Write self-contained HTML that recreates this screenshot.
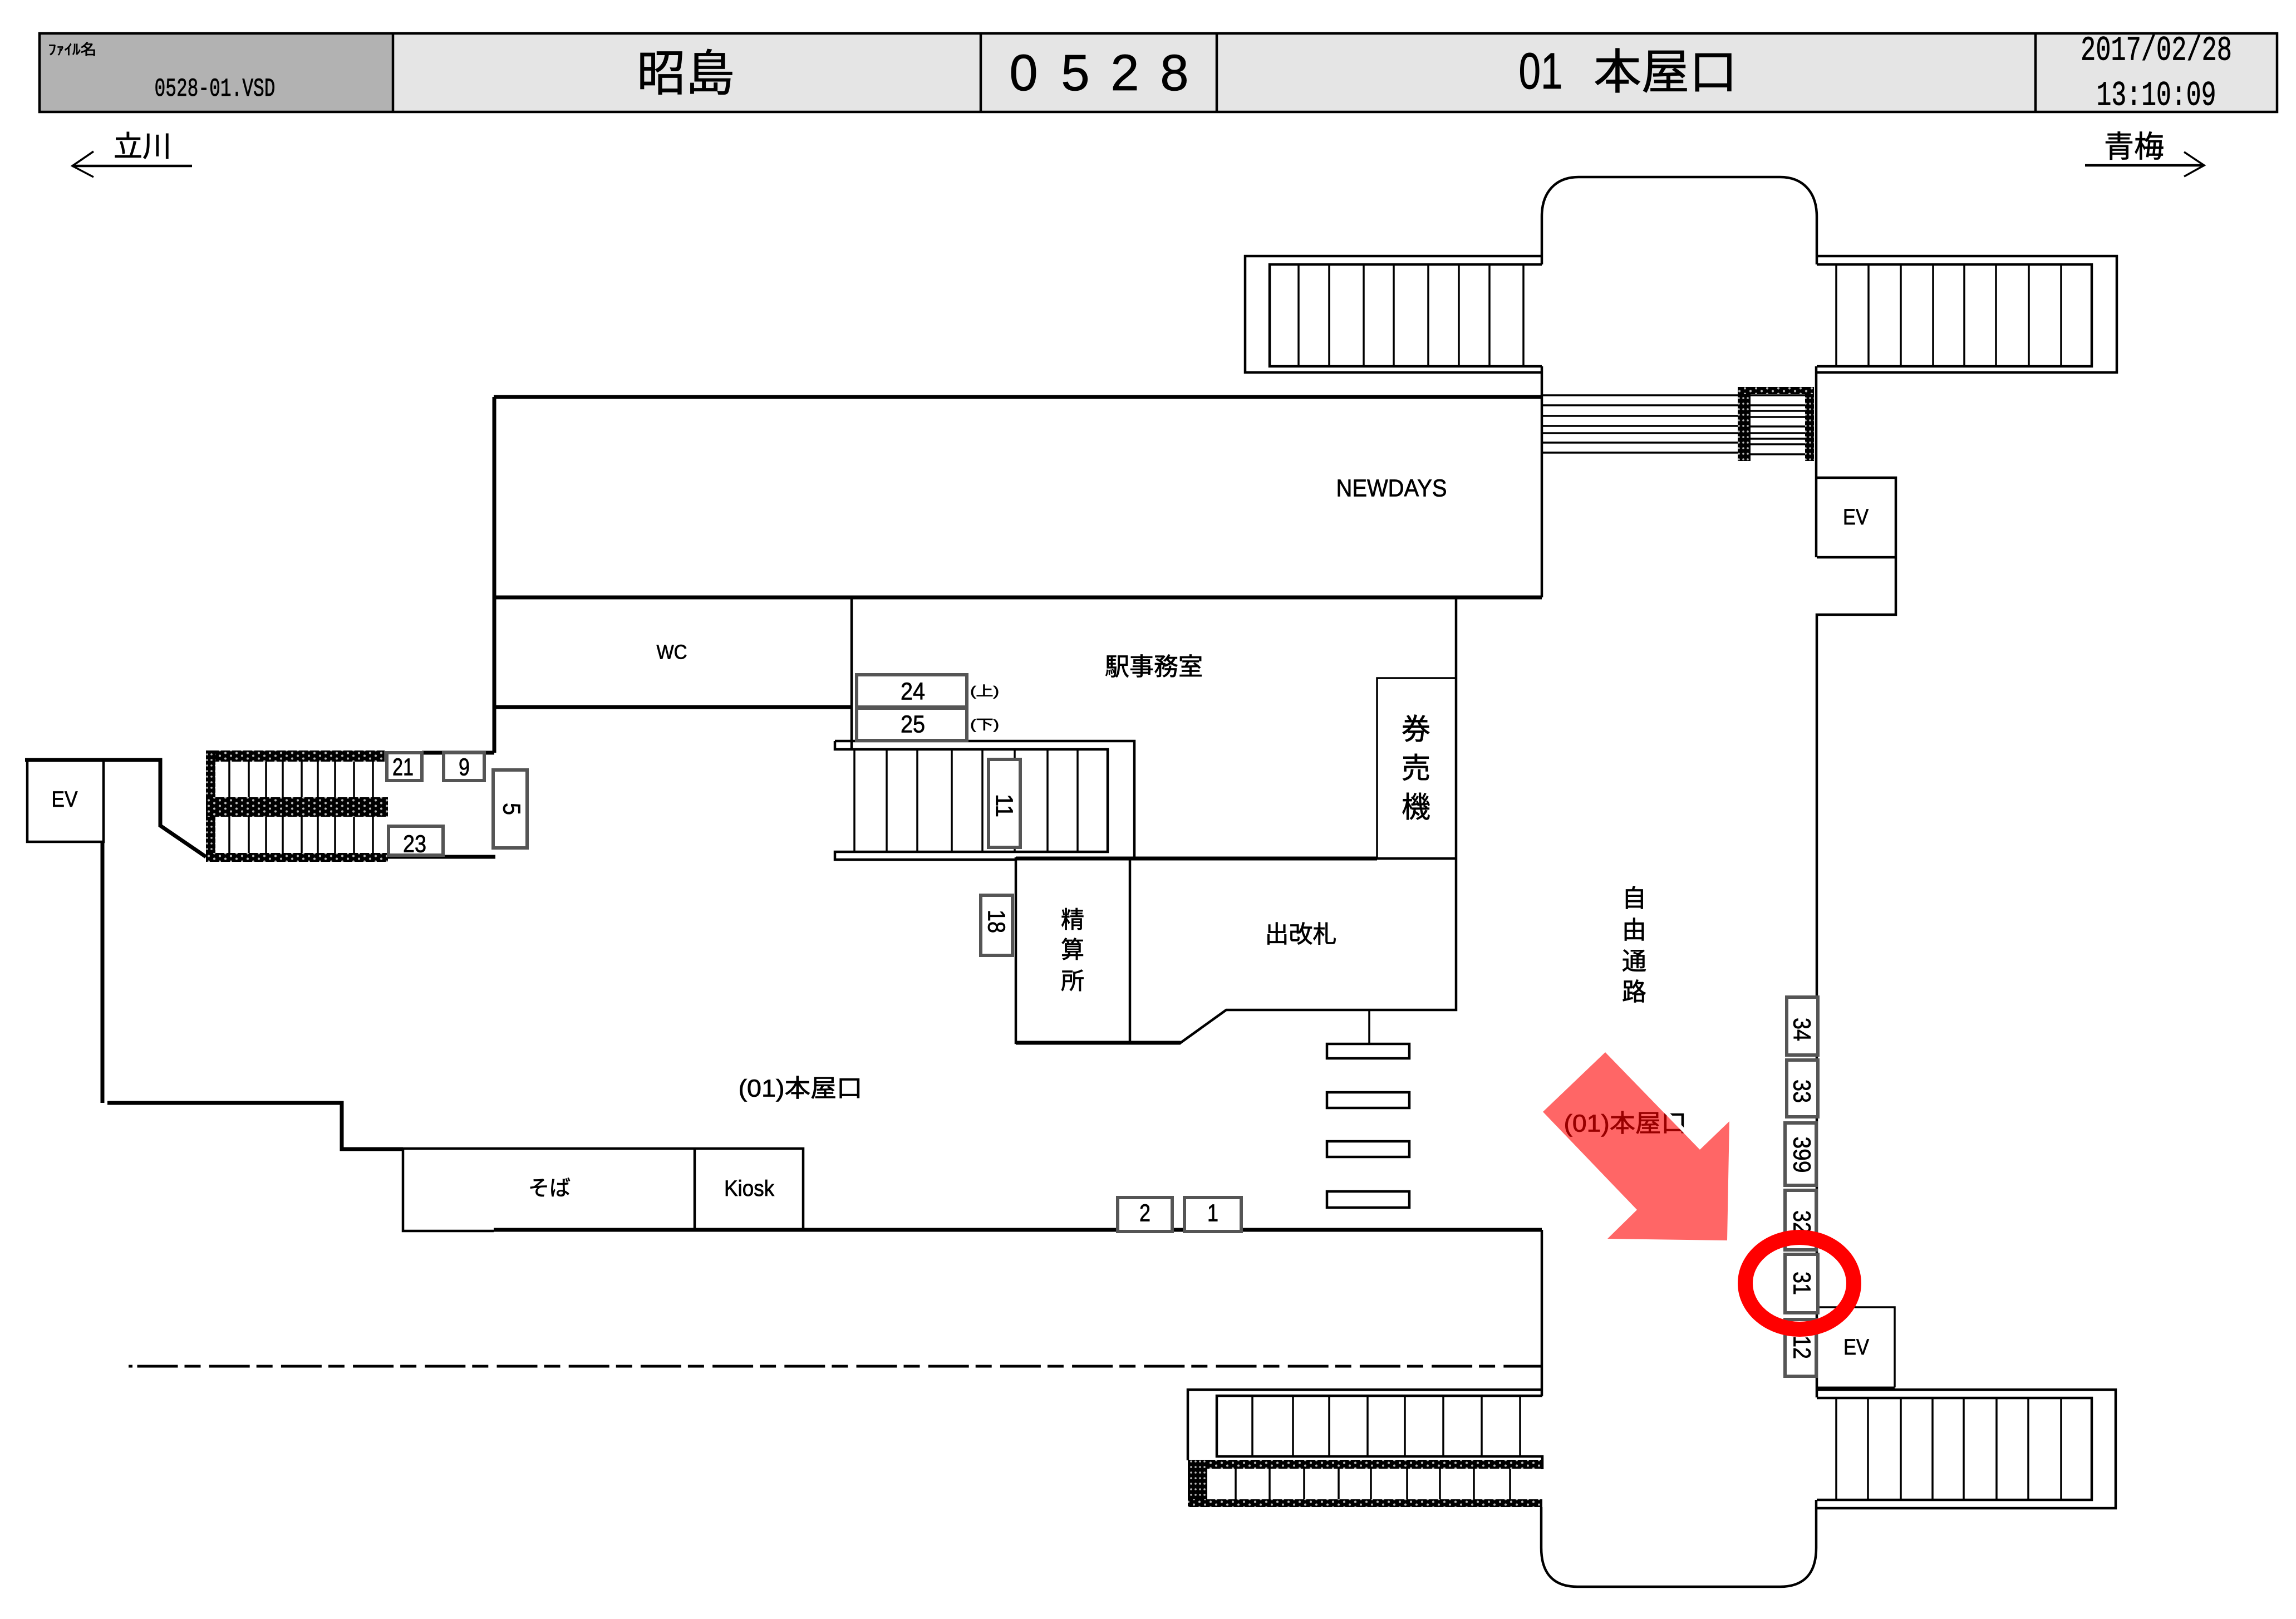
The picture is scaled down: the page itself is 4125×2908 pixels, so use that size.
<!DOCTYPE html>
<html lang="ja">
<head>
<meta charset="utf-8">
<title>昭島 0528 01 本屋口</title>
<style>
html,body{margin:0;padding:0;background:#fff;}
svg{display:block;}
text{font-family:"Liberation Sans","Noto Sans CJK JP",sans-serif;fill:#000;stroke:#000;stroke-width:.8;text-anchor:middle;dominant-baseline:central;}
text.mono{font-family:"Liberation Mono","Noto Sans CJK JP",monospace;}
.w{fill:none;stroke:#000;stroke-width:7;}
.m{fill:none;stroke:#000;stroke-width:4.5;}
.t{fill:none;stroke:#000;stroke-width:3.5;}
.b{fill:#fff;stroke:#555;stroke-width:6;}
</style>
</head>
<body>
<svg xmlns="http://www.w3.org/2000/svg" width="4125" height="2908" viewBox="0 0 4125 2908">
<defs>
<pattern id="h" width="20" height="10" patternUnits="userSpaceOnUse">
<rect width="20" height="10" fill="#000"/>
<circle cx="5" cy="2.5" r="2" fill="#bbb"/>
<circle cx="15" cy="7.5" r="2" fill="#bbb"/>
</pattern>
<pattern id="v" width="8" height="10" patternUnits="userSpaceOnUse">
<rect width="8" height="10" fill="#000"/>
<circle cx="4" cy="5" r="1.8" fill="#bbb"/>
</pattern>
</defs>
<rect width="4125" height="2908" fill="#fff"/>

<!-- header -->
<rect x="71" y="60" width="635" height="141" fill="#b2b2b2"/>
<rect x="706" y="60" width="3385" height="141" fill="#e5e5e5"/>
<path class="m" d="M71 60H4091V201H71ZM706 60V201M1762 60V201M2186 60V201M3657 60V201"/>
<text x="130" y="89" font-size="26" textLength="87" lengthAdjust="spacingAndGlyphs">ﾌｧｲﾙ名</text>
<text class="mono" x="386" y="160" font-size="46" textLength="217" lengthAdjust="spacingAndGlyphs">0528-01.VSD</text>
<text x="1232" y="132" font-size="88">昭島</text>
<text x="1839" y="131" font-size="92">0</text>
<text x="1932" y="131" font-size="92">5</text>
<text x="2021" y="131" font-size="92">2</text>
<text x="2110" y="131" font-size="92">8</text>
<text x="2768" y="128" font-size="92" textLength="79" lengthAdjust="spacingAndGlyphs">01</text>
<text x="2992" y="130" font-size="86">本屋口</text>
<text class="mono" x="3874" y="91" font-size="62" textLength="272" lengthAdjust="spacingAndGlyphs">2017/02/28</text>
<text class="mono" x="3874" y="172" font-size="62" textLength="215" lengthAdjust="spacingAndGlyphs">13:10:09</text>

<!-- direction arrows -->
<text x="256" y="264" font-size="52">立川</text>
<path class="m" d="M130 298H345"/>
<path class="t" d="M168 272L130 298L168 318"/>
<text x="3834" y="264" font-size="54">青梅</text>
<path class="m" d="M3746 297H3960"/>
<path class="t" d="M3924 273L3960 297L3924 317"/>

<!-- top capsule + wings -->
<path class="m" d="M2770 475V389C2770 345 2795 318 2836 318H3198C3239 318 3264 345 3264 389V475"/>
<path class="m" d="M2770 460H2237V669H2770M2770 475H2281V658H2770"/>
<path class="m" d="M3264 460H3803V669H3264M3264 475H3758V658H3264"/>
<path class="t" d="M2333 475V658M2388 475V658M2450 475V658M2504 475V658M2566 475V658M2621 475V658M2676 475V658M2737 475V658"/>
<path class="t" d="M3299 475V658M3357 475V658M3415 475V658M3473 475V658M3529 475V658M3586 475V658M3645 475V658M3703 475V658"/>

<!-- middle stairs -->
<path class="t" d="M2770 710H3125M2770 728H3125M2770 747H3125M2770 765H3125M2770 778H3125M2770 795H3125M2770 813H3125"/>
<path class="t" d="M3145 710H3245M3145 728H3245M3145 738H3245M3145 749H3245M3145 766H3245M3145 778H3245M3145 788H3245M3145 798H3245M3145 816H3245"/>
<rect x="3122" y="695" width="23" height="133" fill="url(#v)"/>
<rect x="3243" y="695" width="16" height="133" fill="url(#v)"/>
<rect x="3122" y="695" width="137" height="13" fill="url(#h)"/>

<!-- walls -->
<path class="m" d="M2770 658V1073"/>
<path class="m" d="M3263 658V1001"/>
<path class="m" d="M3264 858H3406V1104H3264V2510"/>
<path class="m" d="M3264 1001H3406"/>
<path class="w" d="M887 713H2770M887 1073H2770M888 713V1352M888 1270H1530"/>
<path class="m" d="M1530 1073V1344"/>
<path class="m" d="M2616 1073V1814H2203L2121 1873H1825V1542H2616M2030 1542V1873"/>
<path class="w" d="M1825 1873H2121M1825 1542H2474"/>
<path class="t" d="M2474 1542V1218H2616"/>

<!-- centre stairs -->
<path class="m" d="M1500 1331H2038V1542M1500 1331V1346H1990V1530H1500V1544H1825"/>
<path class="t" d="M1535 1346V1530M1593 1346V1530M1648 1346V1530M1710 1346V1530M1765 1346V1530M1823 1346V1530M1882 1346V1530M1936 1346V1530"/>

<!-- left side -->
<path class="w" d="M45 1365H288V1483L370 1539"/>
<path class="m" d="M49 1365V1512H186V1365"/>
<path class="w" d="M184 1512V1981"/>
<path class="w" d="M193 1981H614V2064H724"/>
<path class="t" d="M412 1368V1434M447 1368V1434M478 1368V1434M508 1368V1434M542 1368V1434M571 1368V1434M602 1368V1434M636 1368V1434M670 1368V1434"/>
<path class="t" d="M412 1467V1533M447 1467V1533M478 1467V1533M508 1467V1533M542 1467V1533M571 1467V1533M602 1467V1533M636 1467V1533M670 1467V1533"/>
<rect x="370" y="1348" width="321" height="20" fill="url(#h)"/>
<rect x="370" y="1348" width="17" height="200" fill="url(#v)"/>
<rect x="370" y="1432" width="327" height="35" fill="url(#h)"/>
<rect x="370" y="1532" width="327" height="16" fill="url(#h)"/>
<path class="w" d="M758 1352H888M697 1539H890"/>

<!-- shops -->
<path class="m" d="M724 2063H1443V2209M724 2063V2211H887M1248 2063V2209"/>
<path class="w" d="M887 2209H2770"/>
<path class="m" d="M2770 2209V2507"/>

<!-- platform dash-dot -->
<path d="M231 2454H238" fill="none" stroke="#000" stroke-width="5"/>
<path d="M231 2454H2769" fill="none" stroke="#000" stroke-width="5" stroke-dasharray="73 12 29 15.2" stroke-dashoffset="113.7"/>

<!-- small posts -->
<path class="t" d="M2460 1814V1875"/>
<rect class="m" x="2384" y="1875" width="148" height="26"/>
<rect class="m" x="2384" y="1962" width="148" height="28"/>
<rect class="m" x="2384" y="2050" width="148" height="28"/>
<rect class="m" x="2384" y="2140" width="148" height="29"/>

<!-- lower left wing -->
<path class="m" d="M2769 2496H2134V2623"/>
<path class="m" d="M2771 2507H2186V2616H2771V2639"/>
<path class="t" d="M2250 2507V2616M2323 2507V2616M2388 2507V2616M2457 2507V2616M2524 2507V2616M2593 2507V2616M2662 2507V2616M2731 2507V2616"/>
<path class="t" d="M2220 2638V2693M2281 2638V2693M2343 2638V2693M2405 2638V2693M2463 2638V2693M2528 2638V2693M2587 2638V2693M2648 2638V2693M2713 2638V2693"/>
<rect x="2134" y="2622" width="637" height="16" fill="url(#h)"/>
<rect x="2134" y="2622" width="35" height="85" fill="url(#v)"/>
<rect x="2134" y="2693" width="637" height="14" fill="url(#h)"/>

<!-- lower right wing -->
<path class="m" d="M3264 2496H3801V2709H3264"/>
<path class="m" d="M3264 2511H3758V2694H3264"/>
<path class="t" d="M3299 2511V2694M3356 2511V2694M3415 2511V2694M3472 2511V2694M3528 2511V2694M3587 2511V2694M3644 2511V2694M3703 2511V2694"/>
<path class="w" d="M3266 2494H3404"/>

<!-- bottom capsule -->
<path class="m" d="M2769 2707V2780C2769 2825 2790 2850 2834 2850H3198C3242 2850 3263 2825 3263 2780V2694"/>

<!-- EV lower -->
<path class="t" d="M3266 2348H3404V2492"/>

<!-- numbered boxes -->
<rect class="b" x="1539" y="1212" width="198" height="58"/>
<rect class="b" x="1539" y="1272" width="198" height="58"/>
<rect class="b" x="1776" y="1364" width="57" height="158"/>
<rect class="b" x="1762" y="1608" width="57" height="108"/>
<rect class="b" x="695" y="1352" width="63" height="50"/>
<rect class="b" x="797" y="1352" width="73" height="50"/>
<rect class="b" x="886" y="1383" width="61" height="140"/>
<rect class="b" x="698" y="1484" width="98" height="52"/>
<rect class="b" x="2008" y="2151" width="98" height="61"/>
<rect class="b" x="2128" y="2151" width="102" height="61"/>
<rect class="b" x="3210" y="1791" width="56" height="104"/>
<rect class="b" x="3210" y="1904" width="56" height="102"/>
<rect class="b" x="3207" y="2017" width="56" height="112"/>
<rect class="b" x="3207" y="2138" width="56" height="107"/>
<rect class="b" x="3207" y="2370" width="56" height="102"/>
<rect class="b" x="3207" y="2253" width="59" height="105"/>

<!-- number labels -->
<text x="1640" y="1242" font-size="44" textLength="44" lengthAdjust="spacingAndGlyphs">24</text>
<text x="1640" y="1301" font-size="44" textLength="44" lengthAdjust="spacingAndGlyphs">25</text>
<text x="724" y="1378" font-size="44" textLength="38" lengthAdjust="spacingAndGlyphs">21</text>
<text x="834" y="1378" font-size="44" textLength="20" lengthAdjust="spacingAndGlyphs">9</text>
<text x="745" y="1516" font-size="44" textLength="42" lengthAdjust="spacingAndGlyphs">23</text>
<text x="2057" y="2179" font-size="44" textLength="20" lengthAdjust="spacingAndGlyphs">2</text>
<text x="2179" y="2179" font-size="44" textLength="20" lengthAdjust="spacingAndGlyphs">1</text>
<text transform="translate(919 1453) rotate(90)" font-size="44" textLength="22" lengthAdjust="spacingAndGlyphs">5</text>
<text transform="translate(1804 1447) rotate(90)" font-size="44" textLength="42" lengthAdjust="spacingAndGlyphs">11</text>
<text transform="translate(1790 1655) rotate(90)" font-size="44" textLength="42" lengthAdjust="spacingAndGlyphs">18</text>
<text transform="translate(3237 1849) rotate(90)" font-size="44" textLength="42" lengthAdjust="spacingAndGlyphs">34</text>
<text transform="translate(3237 1960) rotate(90)" font-size="44" textLength="42" lengthAdjust="spacingAndGlyphs">33</text>
<text transform="translate(3237 2074) rotate(90)" font-size="44" textLength="65" lengthAdjust="spacingAndGlyphs">399</text>
<text transform="translate(3237 2195) rotate(90)" font-size="44" textLength="42" lengthAdjust="spacingAndGlyphs">32</text>
<text transform="translate(3237 2305) rotate(90)" font-size="44" textLength="42" lengthAdjust="spacingAndGlyphs">31</text>
<text transform="translate(3237 2420) rotate(90)" font-size="44" textLength="42" lengthAdjust="spacingAndGlyphs">12</text>

<!-- room labels -->
<text x="2500" y="877" font-size="44" textLength="199" lengthAdjust="spacingAndGlyphs">NEWDAYS</text>
<text x="3334" y="929" font-size="40" textLength="46" lengthAdjust="spacingAndGlyphs">EV</text>
<text x="116" y="1436" font-size="40" textLength="47" lengthAdjust="spacingAndGlyphs">EV</text>
<text x="3335" y="2420" font-size="40" textLength="46" lengthAdjust="spacingAndGlyphs">EV</text>
<text x="1207" y="1171" font-size="36" textLength="55" lengthAdjust="spacingAndGlyphs">WC</text>
<text x="2073" y="1198" font-size="44">駅事務室</text>
<text x="1769" y="1242" font-size="24" textLength="52" lengthAdjust="spacingAndGlyphs">(上)</text>
<text x="1769" y="1302" font-size="24" textLength="52" lengthAdjust="spacingAndGlyphs">(下)</text>
<text x="2544" y="1311" font-size="52">券</text>
<text x="2544" y="1381" font-size="52">売</text>
<text x="2544" y="1451" font-size="52">機</text>
<text x="1927" y="1652" font-size="42">精</text>
<text x="1927" y="1706" font-size="42">算</text>
<text x="1927" y="1762" font-size="42">所</text>
<text x="2337" y="1679" font-size="43">出改札</text>
<text x="2936" y="1614" font-size="44">自</text>
<text x="2936" y="1671" font-size="44">由</text>
<text x="2936" y="1727" font-size="44">通</text>
<text x="2936" y="1782" font-size="44">路</text>
<text x="1438" y="1955" font-size="44" textLength="223" lengthAdjust="spacingAndGlyphs">(01)本屋口</text>
<text x="987" y="2135" font-size="38">そば</text>
<text x="1346" y="2135" font-size="40" textLength="90" lengthAdjust="spacingAndGlyphs">Kiosk</text>
<text x="2920" y="2018" font-size="44" textLength="221" lengthAdjust="spacingAndGlyphs">(01)本屋口</text>

<!-- highlight -->
<path d="M2887 1888L3057 2063" fill="none" stroke="#fff" stroke-width="7"/>
<polygon points="2884,1890 3054,2065 3107,2014 3103,2228 2888,2225 2941,2173 2772,1997" fill="#f00" fill-opacity="0.6"/>
<ellipse cx="3233" cy="2305" rx="97.5" ry="82.5" fill="none" stroke="#f00" stroke-width="27"/>
</svg>
</body>
</html>
